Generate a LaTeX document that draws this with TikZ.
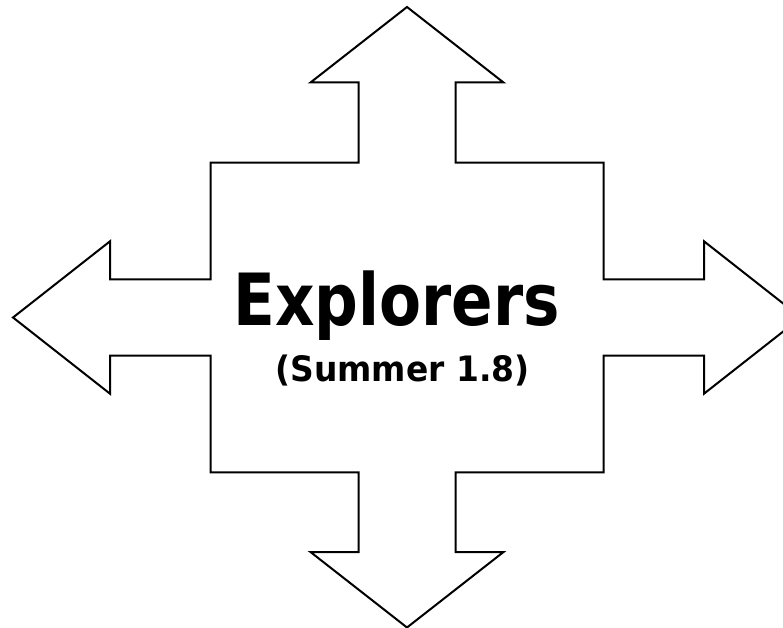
\documentclass[tikz,border=0pt]{standalone}
\usepackage{fontspec}
\newfontfamily\titlefont[FakeStretch=0.85]{DejaVu Sans Bold}
\newfontfamily\subfont[FakeStretch=0.94]{DejaVu Sans Bold}
\begin{document}
\begin{tikzpicture}[x=1pt,y=-1pt,
  outline/.style={draw=black,line width=2pt,line join=miter,fill=white},
  titletext/.style={anchor=base,inner sep=0pt,font=\titlefont\fontsize{72}{80}\selectfont},
  subtext/.style={anchor=base,inner sep=0pt,font=\subfont\fontsize{35}{40}\selectfont}]
\useasboundingbox (0,0) rectangle (783,628);
\clip (0,0) rectangle (783,628);
\draw[outline] (407,7) -- (503.5,82.5) -- (455.5,82.5) -- (455.5,162.7) -- (603.5,162.7)
  -- (603.5,279.3) -- (704,279.3) -- (704,241.3) -- (801,317.5) -- (704,393.7) -- (704,355.7)
  -- (603.5,355.7) -- (603.5,472.3) -- (455.5,472.3) -- (455.5,552) -- (503.5,552)
  -- (407,627.5) -- (310.5,552) -- (358.5,552) -- (358.5,472.3) -- (210.5,472.3)
  -- (210.5,355.7) -- (110,355.7) -- (110,393.7) -- (13,317.5) -- (110,241.3)
  -- (110,279.3) -- (210.5,279.3) -- (210.5,162.7) -- (358.5,162.7) -- (358.5,82.5)
  -- (310.5,82.5) -- cycle;
\node[titletext] (title) at (396.5,325) {Explorers};
\node[subtext] (sub) at (402.5,381.5) {(Summer 1.8)};
\end{tikzpicture}
\end{document}
